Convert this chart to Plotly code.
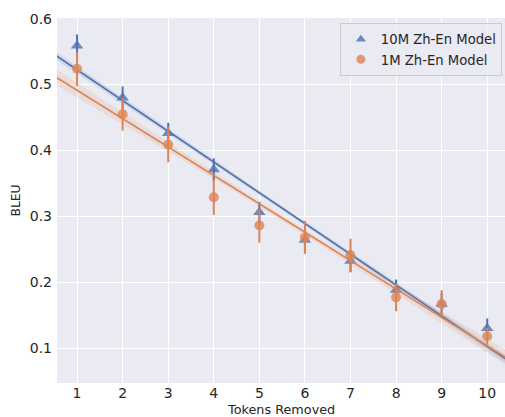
import numpy as np
import plotly.graph_objects as go

tokens_removed = [1, 2, 3, 4, 5, 6, 7, 8, 9, 10]

bleu_10m = [0.559, 0.480, 0.426, 0.371, 0.306, 0.264, 0.232, 0.188, 0.167, 0.130]
err_10m = [0.017, 0.017, 0.016, 0.017, 0.016, 0.016, 0.017, 0.016, 0.016, 0.015]

bleu_1m = [0.524, 0.455, 0.409, 0.329, 0.286, 0.268, 0.241, 0.177, 0.167, 0.118]
err_1m = [0.026, 0.025, 0.027, 0.027, 0.026, 0.025, 0.025, 0.021, 0.021, 0.013]

# regression confidence band half-widths (at mean x, at axis edge)
ci_10m = [0.003, 0.006]
ci_1m = [0.004, 0.012]

series_names = ["10M Zh-En Model", "1M Zh-En Model"]
x_title = "Tokens Removed"
y_title = "BLEU"

BLUE = "#4C72B0"
ORANGE = "#DD8452"

XR = [0.56, 10.39]
YR = [0.047, 0.601]

fig = go.Figure()


def rgba(hexc, a):
    h = hexc.lstrip("#")
    r, g, b = int(h[0:2], 16), int(h[2:4], 16), int(h[4:6], 16)
    return f"rgba({r},{g},{b},{a})"


def add_series(name, x, y, err, ci, color, symbol, size, legsize):
    x = np.array(x, float)
    y = np.array(y, float)
    # scatter with error bars
    fig.add_trace(go.Scatter(
        x=x, y=y, mode="markers", name=name,
        marker=dict(symbol=symbol, size=size, color=color, opacity=0.8,
                    line=dict(width=0)),
        error_y=dict(type="data", array=err, visible=True, color=color,
                     thickness=2, width=0),
        showlegend=False,
    ))
    # legend-only entry (smaller symbol, as in the reference legend)
    fig.add_trace(go.Scatter(
        x=[None], y=[None], mode="markers", name=name,
        marker=dict(symbol=symbol, size=legsize, color=color, opacity=0.8,
                    line=dict(width=0)),
        showlegend=True,
    ))
    # regression fit
    slope, intercept = np.polyfit(x, y, 1)
    xs = np.linspace(0.45, 10.55, 100)
    ys = slope * xs + intercept
    xm = x.mean()
    edge = 0.45
    a = ci[0]
    b = np.sqrt(max(ci[1] ** 2 - a ** 2, 0)) / (xm - edge)
    hw = np.sqrt(a ** 2 + (b * (xs - xm)) ** 2)
    fig.add_trace(go.Scatter(
        x=np.concatenate([xs, xs[::-1]]),
        y=np.concatenate([ys + hw, (ys - hw)[::-1]]),
        fill="toself", fillcolor=rgba(color, 0.15), line=dict(width=0),
        mode="lines", hoverinfo="skip", showlegend=False,
    ))
    fig.add_trace(go.Scatter(
        x=xs, y=ys, mode="lines", line=dict(color=color, width=1.6),
        hoverinfo="skip", showlegend=False,
    ))


add_series(series_names[0], tokens_removed, bleu_10m, err_10m, ci_10m,
           BLUE, "triangle-up", 11, 9)
add_series(series_names[1], tokens_removed, bleu_1m, err_1m, ci_1m,
           ORANGE, "circle", 10, 9)

font_family = "DejaVu Sans"

fig.update_layout(
    width=505, height=417,
    margin=dict(l=57, r=0, t=18, b=34),
    paper_bgcolor="white",
    plot_bgcolor="#EAEAF2",
    font=dict(family=font_family, size=14, color="#262626"),
    showlegend=True,
    legend=dict(
        x=0.993, y=0.986, xanchor="right", yanchor="top",
        bgcolor="rgba(234,234,242,0.8)", bordercolor="#CCCCCC", borderwidth=1,
        font=dict(size=13.2, color="#262626"),
        itemsizing="trace",
        tracegroupgap=0,
    ),
    xaxis=dict(
        range=XR, tickmode="array", tickvals=tokens_removed,
        ticktext=[str(t) for t in tokens_removed],
        showgrid=True, gridcolor="white", gridwidth=1, zeroline=False,
        ticks="", showline=False,
        tickfont=dict(size=14),
    ),
    yaxis=dict(
        range=YR, tickmode="array",
        tickvals=[0.1, 0.2, 0.3, 0.4, 0.5, 0.6],
        ticktext=["0.1", "0.2", "0.3", "0.4", "0.5", "0.6"],
        showgrid=True, gridcolor="white", gridwidth=1, zeroline=False,
        ticks="", showline=False,
        tickfont=dict(size=14),
        ticklabelstandoff=4,
        title=dict(text=y_title, font=dict(size=12.3), standoff=6),
    ),
    annotations=[dict(
        text=x_title, xref="paper", yref="paper", x=0.5, y=-0.0,
        yshift=-26, xanchor="center", yanchor="middle", showarrow=False,
        font=dict(size=12.8, color="#262626"),
    )],
)

fig.write_html(
    "out.html",
    config={"displayModeBar": False},
    post_script="document.body.style.margin='0';document.body.style.overflow='hidden';",
)
